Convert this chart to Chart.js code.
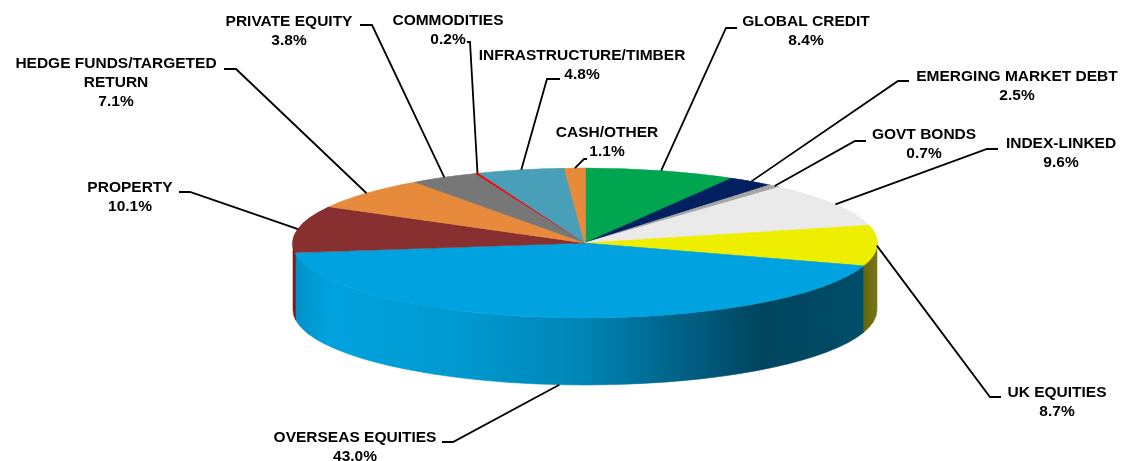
<!DOCTYPE html>
<html lang="en">
<head>
  <meta charset="UTF-8">
  <title>Asset allocation</title>
  <script src="https://cdn.jsdelivr.net/npm/chart.js"></script>
  <style>
    body {
      margin: 0;
      background: #fff;
    }
    #wrap {
      width: 1137px;
      height: 461px;
    }
  </style>
</head>
<body>
  <div id="wrap"><canvas id="allocChart"></canvas></div>

  <script>
    // data
    const categories = ['GLOBAL CREDIT', 'EMERGING MARKET DEBT', 'GOVT BONDS', 'INDEX-LINKED', 'UK EQUITIES',
      'OVERSEAS EQUITIES', 'PROPERTY', 'HEDGE FUNDS/TARGETED\nRETURN', 'PRIVATE EQUITY', 'COMMODITIES',
      'INFRASTRUCTURE/TIMBER', 'CASH/OTHER'];
    const weights = [8.4, 2.5, 0.7, 9.6, 8.7, 43.0, 10.1, 7.1, 3.8, 0.2, 4.8, 1.1];

    // styles
    const topColors = ['#00A550', '#002060', '#A6A6A6', '#EAEAEA', '#EEEE00', '#00A3E0',
      '#883030', '#E88A3C', '#777777', '#FF0000', '#4A9FB8', '#E88A3C'];
    const wallColors = ['#007038', '#001030', '#707070', '#A0A0A0', '#666600', '#0083B4',
      '#6A2424', '#A8602A', '#505050', '#B00000', '#2F7088', '#A8602A'];

    // 3D ellipse geometry (pixels)
    const CX = 585, CY = 243, RX = 292, RY = 75, DEPTH = 67;

    // label layout: text centre, first line y, elbow of leader, end of hook near text
    const labelLayout = [
      { x: 806, y: 22, elbow: [726, 28], hookEnd: 737 },
      { x: 1017, y: 77, elbow: [898, 81], hookEnd: 909 },
      { x: 924, y: 135, elbow: [855, 141], hookEnd: 866 },
      { x: 1061, y: 144, elbow: [987, 149], hookEnd: 998 },
      { x: 1057, y: 393, elbow: [990, 397], hookEnd: 1001 },
      { x: 355, y: 438, elbow: [453, 442], hookEnd: 442, bottom: true },
      { x: 130, y: 188, elbow: [190, 192], hookEnd: 179 },
      { x: 116, y: 64, elbow: [236, 69], hookEnd: 224 },
      { x: 289, y: 22, elbow: [372, 25], hookEnd: 360 },
      { x: 448, y: 21, elbow: [470, 42], hookEnd: 467 },
      { x: 582, y: 56, elbow: [547, 79], hookEnd: 560 },
      { x: 607, y: 133, elbow: [584, 159], hookEnd: 587 }
    ];

    function wallFill(ctx, i) {
      if (i === 5) {
        const g = ctx.createLinearGradient(CX - RX, 0, CX + RX, 0);
        g.addColorStop(0, '#0090C8');
        g.addColorStop(0.06, '#00A2DE');
        g.addColorStop(0.3, '#0098CE');
        g.addColorStop(0.5, '#0084B4');
        g.addColorStop(0.66, '#006287');
        g.addColorStop(0.8, '#00455E');
        g.addColorStop(0.93, '#004A65');
        g.addColorStop(1, '#00506C');
        return g;
      }
      if (i === 4) {
        const g = ctx.createLinearGradient(CX + RX - 20, 0, CX + RX, 0);
        g.addColorStop(0, '#5E5E00');
        g.addColorStop(1, '#77771A');
        return g;
      }
      return wallColors[i];
    }

    const pie3d = {
      id: 'pie3d',
      beforeDatasetsDraw(chart) {
        const ctx = chart.ctx;
        const arcs = chart.getDatasetMeta(0).data;
        // side walls of the front half
        arcs.forEach((el, i) => {
          const s = Math.max(el.startAngle, 0);
          const e = Math.min(el.endAngle, Math.PI);
          if (s >= e) return;
          ctx.save();
          ctx.beginPath();
          ctx.ellipse(CX, CY, RX, RY, 0, s, e);
          ctx.lineTo(CX + RX * Math.cos(e), CY + RY * Math.sin(e) + DEPTH);
          ctx.ellipse(CX, CY + DEPTH, RX, RY, 0, e, s, true);
          ctx.closePath();
          ctx.fillStyle = wallFill(ctx, i);
          ctx.fill();
          ctx.strokeStyle = ctx.fillStyle;
          ctx.lineWidth = 0.6;
          ctx.stroke();
          ctx.restore();
        });
        // squash the library's pie into the top ellipse
        const el = arcs[0];
        ctx.save();
        ctx.translate(CX, CY);
        ctx.scale(RX / el.outerRadius, RY / el.outerRadius);
        ctx.translate(-el.x, -el.y);
      },
      afterDatasetsDraw(chart) {
        chart.ctx.restore();
      },
      afterDraw(chart) {
        const ctx = chart.ctx;
        const arcs = chart.getDatasetMeta(0).data;
        ctx.save();
        ctx.strokeStyle = '#000';
        ctx.lineWidth = 1.8;
        ctx.fillStyle = '#000';
        ctx.font = 'bold 15.5px "Liberation Sans", Arial, sans-serif';
        ctx.textAlign = 'center';
        ctx.textBaseline = 'middle';
        arcs.forEach((el, i) => {
          const L = labelLayout[i];
          const a = (el.startAngle + el.endAngle) / 2;
          const ax = CX + RX * Math.cos(a);
          const ay = CY + RY * Math.sin(a) + (L.bottom ? DEPTH : 0);
          ctx.beginPath();
          ctx.moveTo(ax, ay);
          ctx.lineTo(L.elbow[0], L.elbow[1]);
          ctx.lineTo(L.hookEnd, L.elbow[1]);
          ctx.stroke();
          const lines = categories[i].split('\n').concat(weights[i].toFixed(1) + '%');
          lines.forEach((t, k) => ctx.fillText(t, L.x, L.y + k * 18.8));
        });
        ctx.restore();
      }
    };

    const ctx = document.getElementById('allocChart').getContext('2d');
    const chart = new Chart(ctx, {
      type: 'pie',
      data: {
        labels: categories,
        datasets: [{
          data: weights,
          backgroundColor: topColors,
          borderColor: topColors,
          borderWidth: 0.8,
          clip: false
        }]
      },
      options: {
        responsive: true,
        maintainAspectRatio: false,
        animation: false,
        events: [],
        rotation: 0,
        layout: { padding: { left: 200, right: 167, top: 100, bottom: 75 } },
        plugins: {
          legend: { display: false },
          tooltip: { enabled: false }
        }
      },
      plugins: [pie3d]
    });
  </script>
</body>
</html>
